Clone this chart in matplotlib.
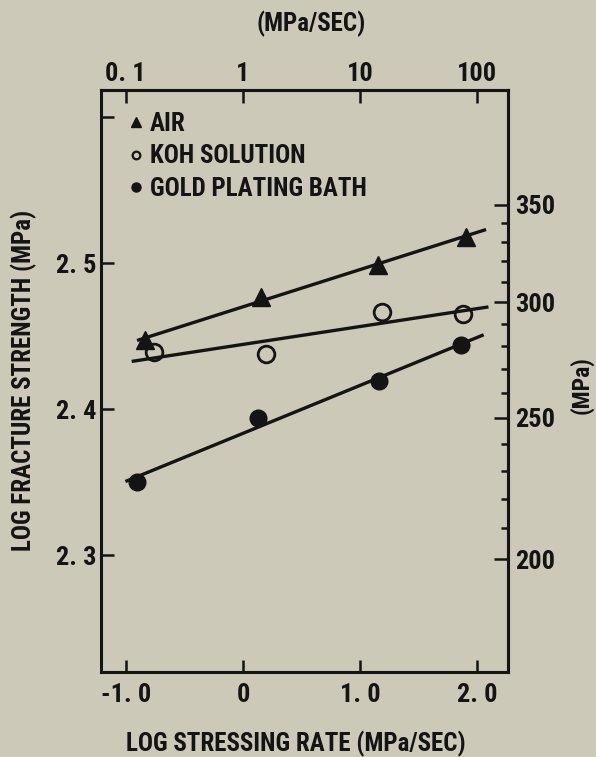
import numpy as np
import matplotlib
matplotlib.use("Agg")
import matplotlib.pyplot as plt
from matplotlib.lines import Line2D
from matplotlib.ticker import FixedLocator

# log stressing rate (MPa/sec) and log fracture strength (MPa) per environment
air_x = [-0.835, 0.153, 1.148, 1.90]
air_y = [2.447, 2.477, 2.4986, 2.518]
koh_x = [-0.759, 0.196, 1.188, 1.873]
koh_y = [2.4388, 2.4377, 2.4662, 2.4651]
gold_x = [-0.906, 0.131, 1.159, 1.858]
gold_y = [2.3502, 2.394, 2.4192, 2.4438]

# x-extent of each least-squares line
air_span = [-0.89, 2.06]
koh_span = [-0.935, 2.08]
gold_span = [-0.99, 2.04]

bottom_ticks = [-1.0, 0.0, 1.0, 2.0]
bottom_labels = ["-1. 0", "0", "1. 0", "2. 0"]
left_ticks = [2.3, 2.4, 2.5, 2.6]
left_labels = ["2. 3", "2. 4", "2. 5", ""]
top_ticks = [0.1, 1, 10, 100]
top_labels = ["0. 1", "1", "10", "100"]
right_major = [200, 250, 300, 350]
right_minor = [210, 220, 230, 240, 260, 270, 280, 290, 310, 320, 330, 340]
# the printed MPa scale sits slightly below the exact log position
right_shift = 0.004

BG = "#ccc9b8"
INK = "#141414"
plt.rcParams["font.family"] = ["Roboto Condensed", "DejaVu Sans Condensed",
                               "Liberation Sans Narrow", "Liberation Sans"]
plt.rcParams["font.weight"] = "bold"
plt.rcParams["text.color"] = INK

TICK_FS = 19
TITLE_FS = 18

fig = plt.figure(figsize=(5.96, 7.57), dpi=100, facecolor=BG)
ax = fig.add_axes([0.1695, 0.1123, 0.6825, 0.7687], facecolor=BG)

series = [
    (air_x, air_y, air_span, dict(marker="^", ms=13, mfc=INK, mec=INK, mew=1)),
    (koh_x, koh_y, koh_span, dict(marker="o", ms=12, mfc="none", mec=INK, mew=2)),
    (gold_x, gold_y, gold_span, dict(marker="o", ms=12, mfc=INK, mec=INK, mew=1)),
]
for xs, ys, span, style in series:
    slope, icpt = np.polyfit(xs, ys, 1)
    xl = np.array(span)
    ax.plot(xl, slope * xl + icpt, color=INK, lw=2.4, zorder=2)
    ax.plot(xs, ys, ls="none", zorder=3, **style)

ax.set_xlim(-1.211, 2.259)
ax.set_ylim(2.2199, 2.6185)

for s in ax.spines.values():
    s.set_linewidth(2.2)
    s.set_color(INK)

ax.set_xticks(bottom_ticks, bottom_labels)
ax.set_yticks(left_ticks, left_labels)
ax.tick_params(direction="in", length=9, width=1.8, colors=INK, labelsize=TICK_FS)
ax.tick_params(axis="x", pad=8)
ax.tick_params(axis="y", pad=3)

top = ax.secondary_xaxis("top", functions=(lambda v: 10.0 ** v, np.log10))
top.set_ticks(top_ticks, top_labels)
top.tick_params(direction="in", length=9, width=1.8, colors=INK,
                labelsize=TICK_FS, pad=3)
top.spines["top"].set_linewidth(2.2)

right = ax.secondary_yaxis(
    "right",
    functions=(lambda v: 10.0 ** (v + right_shift), lambda m: np.log10(m) - right_shift),
)
right.set_ticks(right_major, [str(v) for v in right_major])
right.yaxis.set_minor_locator(FixedLocator(right_minor))
right.tick_params(which="major", direction="in", length=10, width=1.8,
                  colors=INK, labelsize=TICK_FS, pad=5)
right.tick_params(which="minor", direction="in", length=5, width=1.8, colors=INK)
right.spines["right"].set_linewidth(2.2)

handles = [
    Line2D([], [], ls="none", marker="^", ms=7, mfc=INK, mec=INK),
    Line2D([], [], ls="none", marker="o", ms=5.5, mfc="none", mec=INK, mew=1.6),
    Line2D([], [], ls="none", marker="o", ms=6.5, mfc=INK, mec=INK),
]
ax.legend(handles, ["AIR", "KOH SOLUTION", "GOLD PLATING BATH"],
          loc="upper left", bbox_to_anchor=(0.068, 0.962), frameon=False,
          fontsize=TITLE_FS, handlelength=0.55, handletextpad=0.3,
          labelspacing=0.33, borderpad=0, borderaxespad=0)

fig.text(0.040, 0.498, "LOG FRACTURE STRENGTH (MPa)", rotation=90,
         ha="center", va="center", fontsize=TITLE_FS)
fig.text(0.497, 0.017, "LOG STRESSING RATE (MPa/SEC)",
         ha="center", va="center", fontsize=TITLE_FS)
fig.text(0.522, 0.968, "(MPa/SEC)", ha="center", va="center", fontsize=TITLE_FS)
fig.text(0.976, 0.491, "(MPa)", rotation=90, ha="center", va="center",
         fontsize=17)

fig.savefig("out.png", dpi=100, facecolor=BG)
